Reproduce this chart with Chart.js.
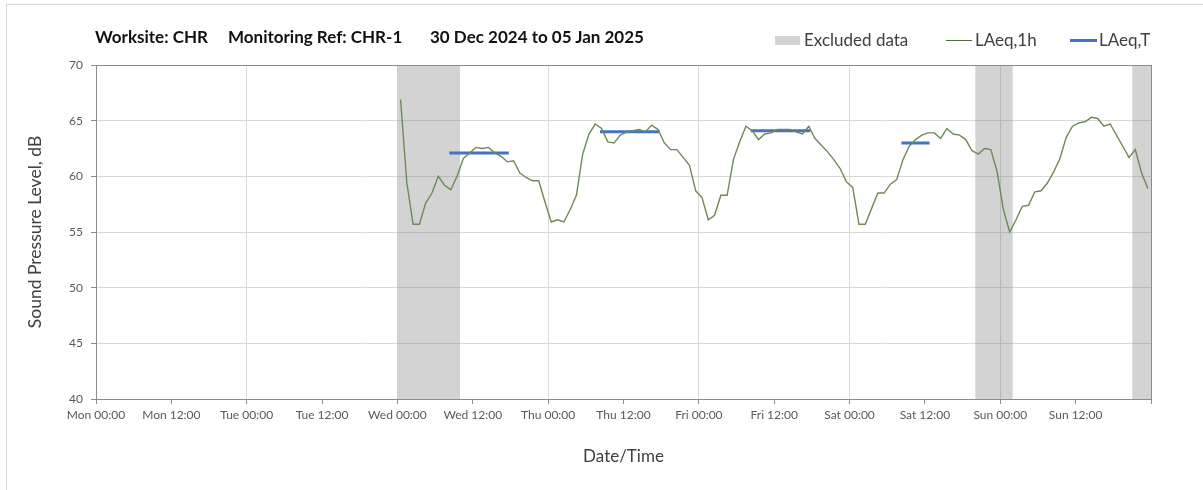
<!DOCTYPE html>
<html>
<head>
<meta charset="utf-8">
<script src="https://cdn.jsdelivr.net/npm/chart.js@4/dist/chart.umd.min.js"></script>
<style>
    html, body { margin: 0; padding: 0; background: #fff; }
    #wrap { position: relative; width: 1203px; height: 490px; overflow: hidden; font-family: Lato, "Open Sans", sans-serif; }
    #frame { position: absolute; left: 6px; top: 4px; right: -2px; bottom: -2px; border-left: 1px solid #d9d9d9; border-top: 1px solid #d9d9d9; }
    #chart { position: absolute; left: 0; top: 0; }
    .hdr { position: absolute; top: 27px; font-size: 17px; line-height: 20px; font-weight: 700; color: #111; white-space: nowrap; }
    .leg { position: absolute; top: 30px; font-size: 17px; line-height: 20px; color: #404040; white-space: nowrap; }
    .sw { position: absolute; }
</style>
</head>
<body>
<div id="wrap">
    <div id="frame"></div>
    <canvas id="chart" width="1203" height="490"></canvas>
    <div class="hdr" style="left:95px">Worksite: CHR</div>
    <div class="hdr" style="left:228px">Monitoring Ref: CHR-1</div>
    <div class="hdr" style="left:430px">30 Dec 2024 to 05 Jan 2025</div>
    <div class="sw" style="left:775px;top:36px;width:25px;height:9px;background:#d3d3d3"></div>
    <div class="leg" style="left:804px">Excluded data</div>
    <div class="sw" style="left:946px;top:40px;width:26px;height:1px;background:#4f6b32"></div>
    <div class="leg" style="left:975px">LAeq,1h</div>
    <div class="sw" style="left:1070px;top:39px;width:27px;height:3px;background:#4472c4"></div>
    <div class="leg" style="left:1099px">LAeq,T</div>
</div>
<script>
(function () {
    "use strict";

    // x axis: hours since Mon 30 Dec 2024 00:00
    const DAY_NAMES = ["Mon", "Tue", "Wed", "Thu", "Fri", "Sat", "Sun"];
    const X_MIN = 0;
    const X_MAX = 168;
    const X_STEP = 12;
    const Y_MIN = 40;
    const Y_MAX = 70;
    const Y_STEP = 5;

    // LAeq,1h, hourly from Wed 00:30
    const LAEQ_1H_START = 48.5;
    const laeq1h = [
        66.9, 59.4, 55.7, 55.7, 57.6, 58.5, 60.0, 59.2, 58.8, 60.0, 61.6, 62.1,
        62.6, 62.5, 62.6, 62.1, 61.8, 61.3, 61.4, 60.3, 59.9, 59.6, 59.6, 57.7,
        55.9, 56.1, 55.9, 57.0, 58.3, 62.0, 63.8, 64.7, 64.3, 63.1, 63.0, 63.7,
        64.0, 64.1, 64.2, 64.0, 64.6, 64.2, 63.0, 62.4, 62.4, 61.7, 61.0, 58.7,
        58.1, 56.1, 56.5, 58.3, 58.3, 61.5, 63.1, 64.5, 64.1, 63.3, 63.8, 63.9,
        64.2, 64.2, 64.2, 64.0, 63.8, 64.5, 63.4, 62.8, 62.2, 61.5, 60.7, 59.5,
        59.0, 55.7, 55.7, 57.1, 58.5, 58.5, 59.3, 59.7, 61.5, 62.7, 63.3, 63.7,
        63.9, 63.9, 63.4, 64.3, 63.8, 63.7, 63.3, 62.3, 62.0, 62.5, 62.4, 60.4,
        57.0, 55.0, 56.1, 57.3, 57.4, 58.6, 58.7, 59.4, 60.4, 61.6, 63.5, 64.5,
        64.8, 64.9, 65.3, 65.2, 64.5, 64.7, 63.7, 62.7, 61.7, 62.4, 60.3, 58.9
    ];

    // LAeq,T periods (first and last hourly point of each period)
    const laeqTFrom = [56.5, 80.5, 104.5, 128.5];
    const laeqTTo = [65.5, 89.5, 113.5, 132.5];
    const laeqTValue = [62.1, 64.0, 64.1, 63.0];

    // excluded data ranges
    const excludedFrom = [48, 140, 165];
    const excludedTo = [58, 146, 168];

    const GREEN = "#6c8a56";
    const BLUE = "#4472c4";
    const SHADE = "rgba(120, 120, 120, 0.33)";
    const AXIS = "#8c8c8c";
    const GRID = "#d9d9d9";
    const TEXT = "#404040";

    function tickLabel(v) {
        if (v >= X_MAX) return "";
        const day = DAY_NAMES[Math.floor(v / 24)];
        return day + " " + (v % 24 === 0 ? "00:00" : "12:00");
    }

    const datasets = [];

    excludedFrom.forEach(function (from, i) {
        datasets.push({
            label: "Excluded data",
            data: [{ x: from, y: Y_MAX }, { x: excludedTo[i], y: Y_MAX }],
            fill: "start",
            backgroundColor: SHADE,
            borderColor: "transparent",
            borderWidth: 0,
            pointRadius: 0,
            order: 3,
        });
    });

    const tPoints = [];
    laeqTFrom.forEach(function (from, i) {
        tPoints.push({ x: from, y: laeqTValue[i] });
        tPoints.push({ x: laeqTTo[i], y: laeqTValue[i] });
        tPoints.push({ x: laeqTTo[i], y: null });
    });
    datasets.push({
        label: "LAeq,T",
        data: tPoints,
        borderColor: BLUE,
        borderWidth: 3,
        borderCapStyle: "square",
        pointRadius: 0,
        spanGaps: false,
        fill: false,
        order: 2,
    });

    datasets.push({
        label: "LAeq,1h",
        data: laeq1h.map(function (v, i) { return { x: LAEQ_1H_START + i, y: v }; }),
        borderColor: GREEN,
        borderWidth: 1.4,
        pointRadius: 0,
        tension: 0,
        fill: false,
        order: 1,
    });

    const outline = {
        id: "outline",
        afterDatasetsDraw: function (chart) {
            const a = chart.chartArea;
            const ctx = chart.ctx;
            ctx.save();
            ctx.strokeStyle = AXIS;
            ctx.lineWidth = 1;
            ctx.strokeRect(Math.round(a.left) + 0.5, Math.round(a.top) + 0.5,
                Math.round(a.right - a.left), Math.round(a.bottom - a.top));
            ctx.restore();
        },
    };

    Chart.defaults.font.family = "Lato, 'Open Sans', sans-serif";

    new Chart(document.getElementById("chart").getContext("2d"), {
        type: "line",
        data: { datasets: datasets },
        plugins: [outline],
        options: {
            responsive: false,
            animation: false,
            events: [],
            layout: { padding: { left: 0, top: 65, right: 52, bottom: 0 } },
            plugins: {
                legend: { display: false },
                tooltip: { enabled: false },
                title: { display: false },
            },
            scales: {
                x: {
                    type: "linear",
                    min: X_MIN,
                    max: X_MAX,
                    afterFit: function (s) { s.height = 91; },
                    afterBuildTicks: function (s) {
                        s.ticks = [];
                        for (let v = X_MIN; v <= X_MAX; v += X_STEP) s.ticks.push({ value: v });
                    },
                    ticks: {
                        autoSkip: false,
                        maxRotation: 0,
                        minRotation: 0,
                        padding: 4,
                        color: "#595959",
                        font: { size: 12 },
                        callback: tickLabel,
                    },
                    grid: {
                        color: function (ctx) {
                            return ctx.tick && ctx.tick.value % 24 === 0 ? GRID : "rgba(0,0,0,0)";
                        },
                        tickColor: AXIS,
                        tickLength: 5,
                    },
                    border: { color: AXIS },
                    title: {
                        display: true,
                        text: "Date/Time",
                        color: TEXT,
                        font: { size: 17 },
                        padding: { top: 0, bottom: 23 },
                    },
                },
                y: {
                    min: Y_MIN,
                    max: Y_MAX,
                    afterFit: function (s) { s.width = 96; },
                    ticks: {
                        stepSize: Y_STEP,
                        padding: 8,
                        color: "#595959",
                        font: { size: 12 },
                    },
                    grid: { color: GRID, tickColor: AXIS, tickLength: 5 },
                    border: { color: AXIS },
                    title: {
                        display: true,
                        text: "Sound Pressure Level, dB",
                        color: TEXT,
                        font: { size: 17.5 },
                        padding: { top: 25, bottom: 0 },
                    },
                },
            },
        },
    });
})();
</script>
</body>
</html>
